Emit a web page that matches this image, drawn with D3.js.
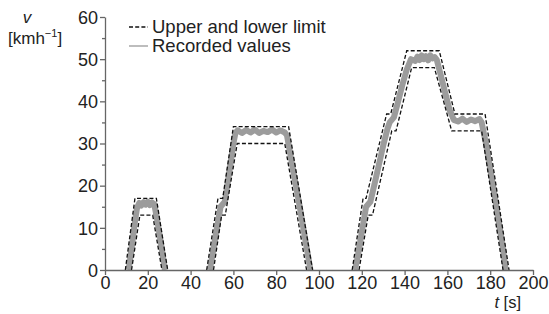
<!DOCTYPE html>
<html>
<head>
<meta charset="utf-8">
<script src="https://cdn.jsdelivr.net/npm/d3@7"></script>
<style>
  body { margin: 0; background: #fff; }
  text { font-family: "Liberation Sans", Arial, sans-serif; fill: #222; }
</style>
</head>
<body>
<svg id="chart" width="549" height="314"></svg>
<script>
// ECE-type speed trace: limits and recorded values, [t s, v km/h]
var upperLimit = [
  [[9.5, 0], [14, 17], [24, 17], [29.3, 0]],
  [[47.5, 0], [52.8, 17], [55, 17], [60, 34], [85.8, 34], [97, 0]],
  [[115.5, 0], [120.6, 17], [122, 17], [131.6, 37], [133.5, 37], [141, 52], [156.2, 52], [163.5, 37], [177.6, 37], [188.8, 0]]
];
var lowerLimit = [
  [[12.4, 0], [16.3, 13], [22.3, 13], [26.6, 0]],
  [[50.7, 0], [54.5, 13], [56.2, 13], [61.8, 30], [84, 30], [94.2, 0]],
  [[118.7, 0], [123, 13], [125, 13], [134, 33], [136, 33], [143.3, 48], [153.9, 48], [162, 33], [176, 33], [186, 0]]
];
var recorded = [
  [[11, 0], [12, 3.5], [13, 7.5], [14, 11.5], [15, 14.8], [16, 15.9], [17, 15.3], [18, 16.1], [19, 15.5], [20, 16.2], [21, 15.4], [22, 16], [23, 15.6], [24, 13], [25, 10], [26, 6.8], [27, 3.4], [28, 0]],
  [[49, 0], [50, 3], [51, 6], [52, 9], [53, 12], [54, 15], [55, 15.6], [56, 16.2], [57, 19.5], [58, 23], [59, 26.5], [60, 30], [61, 32.6], [62, 33.1], [64, 32.5], [66, 33.2], [68, 32.6], [70, 33.3], [72, 32.5], [74, 33], [76, 32.7], [78, 33.3], [80, 32.6], [82, 33.1], [84, 32.6], [85, 32], [88, 23.5], [91, 15], [94, 6], [96, 0]],
  [[116.8, 0], [118, 3], [119, 6], [120, 9], [121, 12], [122, 15], [123, 15.6], [124, 16.2], [126, 20.5], [128, 25], [130, 29.5], [132, 33.5], [133, 35], [134, 35.6], [135, 36.2], [137, 40], [139, 44], [141, 47.5], [143, 50], [145, 49.6], [146, 50.6], [147, 49.8], [148, 50.9], [149, 50], [150, 50.7], [151, 49.7], [152, 50.9], [153, 50.2], [154, 50.5], [155, 49.9], [157, 46], [159, 42], [161, 38], [163, 35.6], [165, 35.2], [167, 35.9], [169, 35.1], [171, 35.7], [173, 35.3], [175, 35.8], [176, 35], [178, 30], [180, 24], [182, 17.8], [184, 11.5], [186, 5], [187.2, 0]]
];
var xTicks = [0, 20, 40, 60, 80, 100, 120, 140, 160, 180, 200];
var yTicks = [0, 10, 20, 30, 40, 50, 60];
var yMinorTicks = [5, 15, 25, 35, 45, 55];

var svg = d3.select("#chart");
var axisColor = "#666";

var x = d3.scaleLinear().domain([0, 200]).range([105, 533]);
var y = d3.scaleLinear().domain([0, 60]).range([270, 17]);

var line = d3.line()
  .x(function(d) { return x(d[0]); })
  .y(function(d) { return y(d[1]); });

// recorded values (thick grey band)
svg.append("g").selectAll("path")
  .data(recorded)
  .enter().append("path")
    .attr("d", line)
    .attr("fill", "none")
    .attr("stroke", "#9c9c9c")
    .attr("stroke-width", 6)
    .attr("stroke-linejoin", "round");

// limits
svg.append("g").selectAll("path")
  .data(upperLimit.concat(lowerLimit))
  .enter().append("path")
    .attr("d", line)
    .attr("fill", "none")
    .attr("stroke", "#111")
    .attr("stroke-width", 1.3)
    .attr("stroke-dasharray", "4,2.2");

// axes
var xAxis = svg.append("g")
  .attr("transform", "translate(0," + y(0) + ")")
  .call(d3.axisBottom(x).tickValues(xTicks).tickSize(5).tickSizeOuter(0));
var yAxis = svg.append("g")
  .attr("transform", "translate(" + x(0) + ",0)")
  .call(d3.axisLeft(y).tickValues(yTicks).tickSize(5).tickSizeOuter(0));
svg.append("g")
  .attr("transform", "translate(" + x(0) + ",0)")
  .call(d3.axisLeft(y).tickValues(yMinorTicks).tickSize(3).tickFormat(""))
  .select(".domain").remove();

svg.selectAll(".domain, .tick line").attr("stroke", axisColor).attr("stroke-width", 1.3);
xAxis.selectAll(".tick text").attr("font-size", 18).attr("dy", "0.85em").attr("y", 4);
yAxis.selectAll(".tick text").attr("font-size", 18).attr("x", -7).attr("dy", "0.35em");
svg.selectAll(".tick text").style("fill", "#222").style("font-family", "Liberation Sans, Arial, sans-serif");

// axis titles
svg.append("text").attr("x", 27).attr("y", 23).attr("text-anchor", "middle")
  .attr("font-size", 17).attr("font-style", "italic").text("v");
var yl = svg.append("text").attr("x", 8).attr("y", 44).attr("font-size", 17);
yl.append("tspan").text("[kmh");
yl.append("tspan").attr("dy", -7).attr("font-size", 11).text("\u22121");
yl.append("tspan").attr("dy", 7).text("]");

var xl = svg.append("text").attr("x", 521).attr("y", 308).attr("text-anchor", "end").attr("font-size", 16.5);
xl.append("tspan").attr("font-style", "italic").text("t");
xl.append("tspan").text(" [s]");

// legend
var legend = svg.append("g");
legend.append("line").attr("x1", 129).attr("x2", 148).attr("y1", 27).attr("y2", 27)
  .attr("stroke", "#111").attr("stroke-width", 1.3).attr("stroke-dasharray", "4,2.2");
legend.append("text").attr("x", 152).attr("y", 27).attr("dy", "0.35em").attr("font-size", 18.5)
  .text("Upper and lower limit");
legend.append("line").attr("x1", 129).attr("x2", 148).attr("y1", 46).attr("y2", 46)
  .attr("stroke", "#999").attr("stroke-width", 1.3);
legend.append("text").attr("x", 152).attr("y", 46).attr("dy", "0.35em").attr("font-size", 18.5)
  .text("Recorded values");
</script>
</body>
</html>
